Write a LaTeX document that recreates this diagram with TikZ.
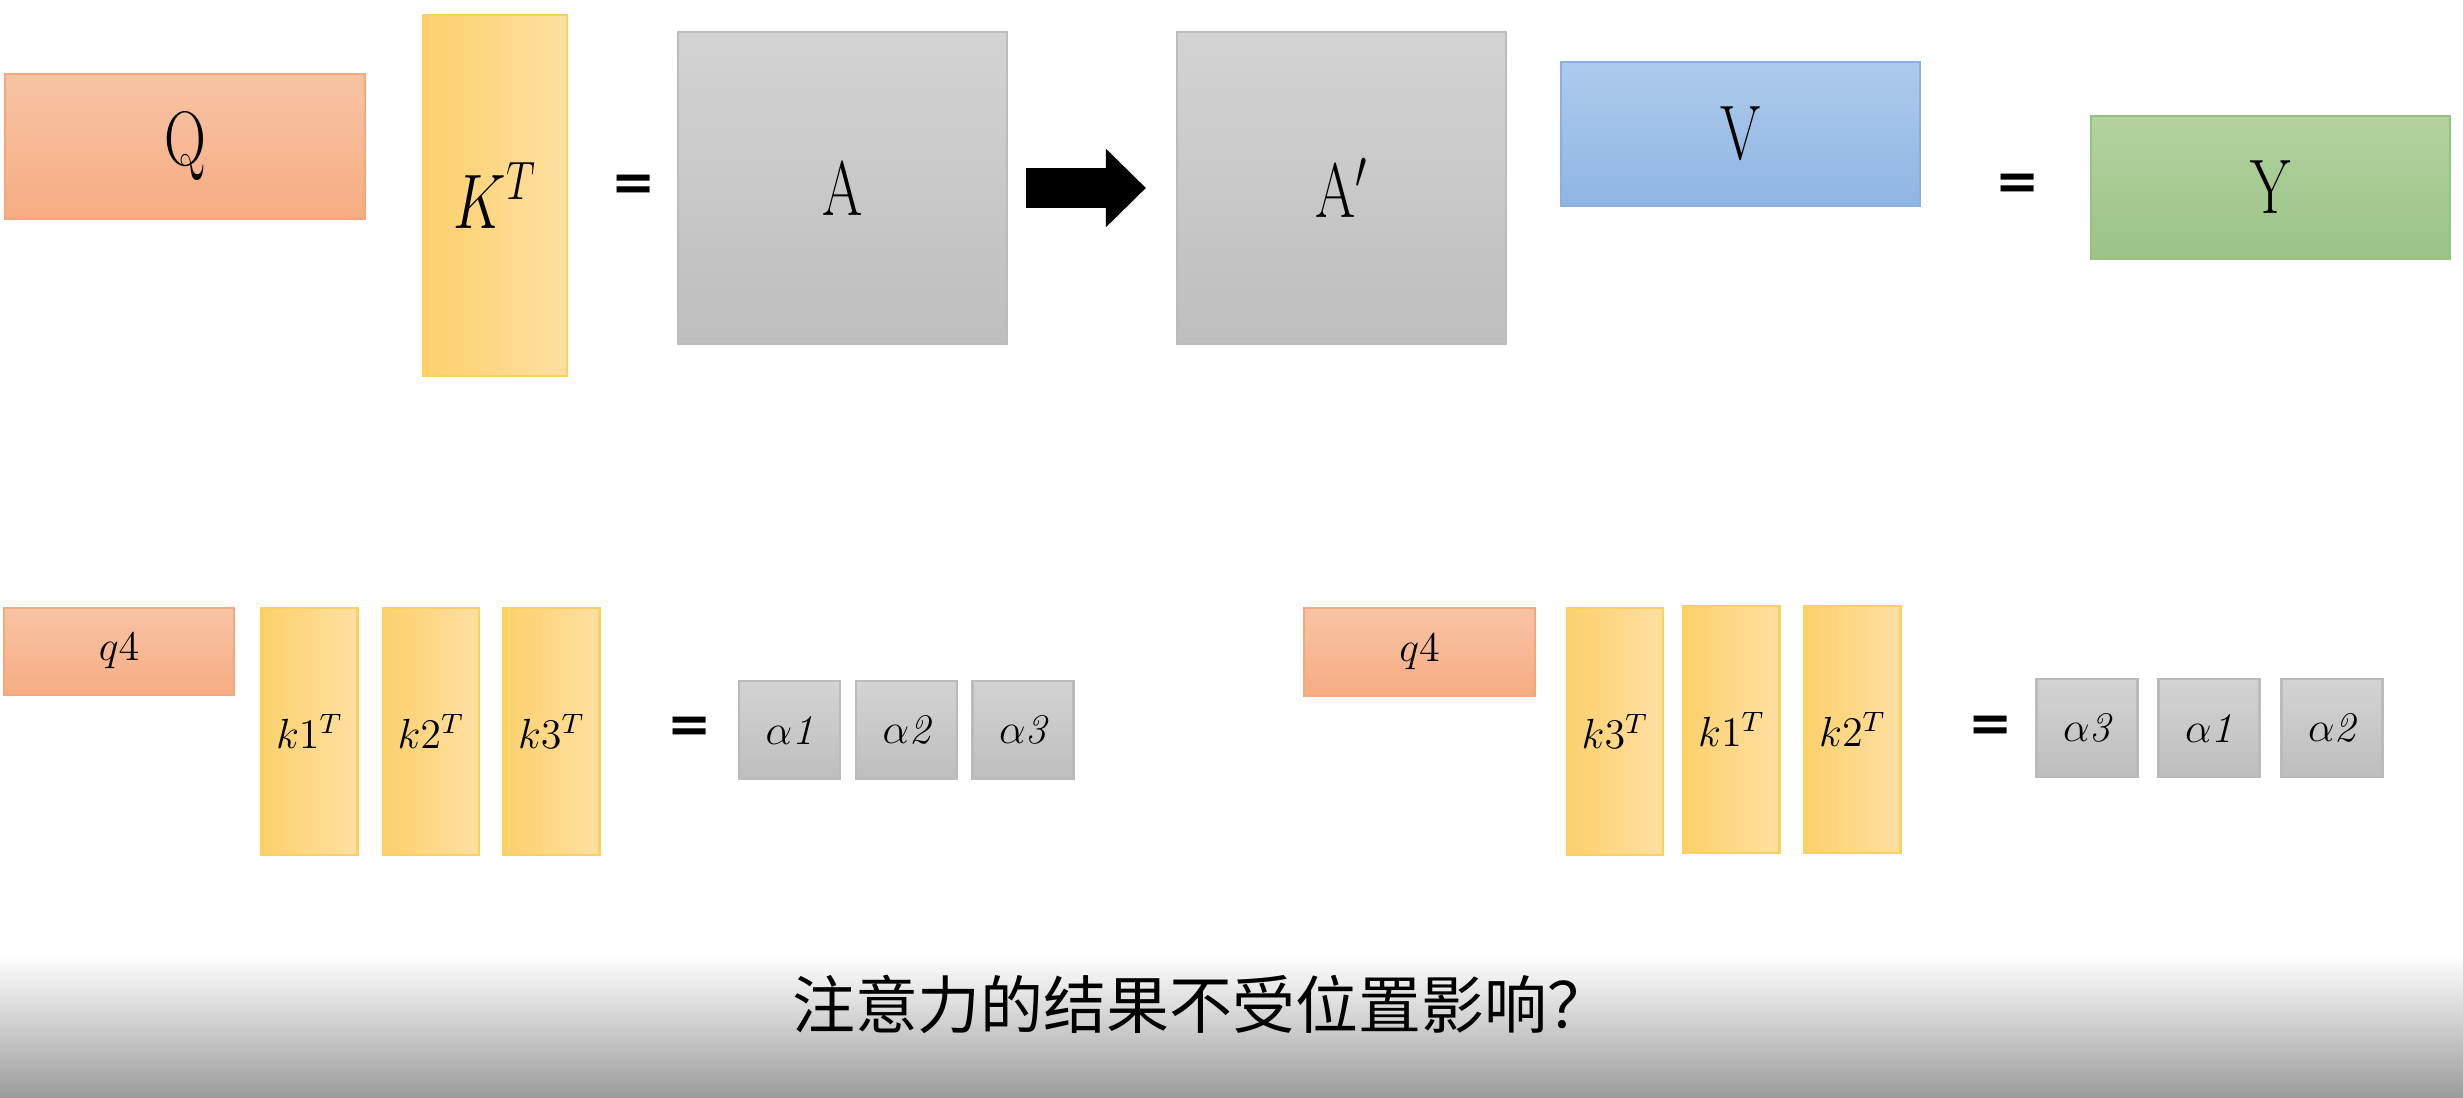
\RequirePackage{fix-cm}
\documentclass[tikz,border=0pt]{standalone}
\usepackage{fontspec}
\usepackage{graphicx}
\newfontfamily\cjk{Noto Sans CJK SC}
\newfontfamily\eqfont{DejaVu Sans}
\usetikzlibrary{arrows.meta}

\definecolor{qtop}{HTML}{F8C4A4}
\definecolor{qbot}{HTML}{F6AC82}
\definecolor{qline}{HTML}{F2A77C}
\definecolor{kleft}{HTML}{FCD06C}
\definecolor{kright}{HTML}{FEE0A2}
\definecolor{kline}{HTML}{FAD060}
\definecolor{atop}{HTML}{D3D3D3}
\definecolor{abot}{HTML}{BEBEBE}
\definecolor{aline}{HTML}{BBBBBB}
\definecolor{vtop}{HTML}{ADCAEB}
\definecolor{vbot}{HTML}{8FB5E3}
\definecolor{vline}{HTML}{8AB0E0}
\definecolor{ytop}{HTML}{B3D2A0}
\definecolor{ybot}{HTML}{9AC485}
\definecolor{yline}{HTML}{96C282}
\definecolor{barmid}{HTML}{DCDCDC}
\definecolor{barbot}{HTML}{9C9C9C}

\newcommand{\narrowtxt}[1]{\scalebox{0.75}[1]{#1}}

\tikzset{
  mat/.style={inner sep=0pt, line width=0.6pt, text=black, font=\fontsize{22}{26}\selectfont},
  qmat/.style={mat, top color=qtop, bottom color=qbot, draw=qline},
  kmat/.style={mat, left color=kleft, right color=kright, draw=kline},
  amat/.style={mat, top color=atop, bottom color=abot, draw=aline},
  vmat/.style={mat, top color=vtop, bottom color=vbot, draw=vline},
  ymat/.style={mat, top color=ytop, bottom color=ybot, draw=yline},
  smalltxt/.style={font=\fontsize{12}{14}\selectfont},
  kcol/.style={kmat, smalltxt, minimum width=0.96cm, minimum height=2.47cm},
  acell/.style={amat, smalltxt, minimum width=1.01cm, minimum height=0.98cm},
  eqsign/.style={inner sep=0pt, font=\eqfont\bfseries\fontsize{15}{15}\selectfont},
}

\begin{document}
\begin{tikzpicture}
\useasboundingbox (0,0) rectangle (24.63,10.97);
% fascia sottotitolo
\shade[top color=white, middle color=barmid, bottom color=barbot] (0,0) rectangle (24.63,1.42);
\fill[white] (0,1.42) rectangle (24.63,10.97);
% riga superiore
\node[qmat, minimum width=3.60cm, minimum height=1.45cm] (Q) at (1.85,9.505) {\narrowtxt{$\mathrm{Q}$}};
\node[kmat, minimum width=1.44cm, minimum height=3.61cm] (KT) at (4.95,9.015) {\narrowtxt{$K^T$}};
\node[eqsign] (eq1) at (6.34,9.09) {=};
\node[amat, minimum width=3.29cm, minimum height=3.12cm] (A) at (8.425,9.09) {\narrowtxt{$\mathrm{A}$}};
\node[amat, minimum width=3.29cm, minimum height=3.12cm] (A2) at (13.415,9.09) {\narrowtxt{$\mathrm{A}'$}};
\node[vmat, minimum width=3.59cm, minimum height=1.44cm] (V) at (17.405,9.63) {\narrowtxt{$\mathrm{V}$}};
\node[eqsign] (eq2) at (20.175,9.10) {=};
\node[ymat, minimum width=3.59cm, minimum height=1.43cm] (Y) at (22.705,9.095) {\narrowtxt{$\mathrm{Y}$}};
% freccia
\draw[line width=0.4cm, -{Triangle[length=0.4cm, width=0.76cm]}, shorten <=0.18cm, shorten >=0.30cm] (A.east) -- (A2.west);
% riga inferiore, sinistra
\node[qmat, smalltxt, minimum width=2.30cm, minimum height=0.87cm] (q4a) at (1.19,4.455) {$q4$};
\node[kcol] (k1a) at (3.095,3.655) {$k1^T$};
\node[kcol] (k2a) at (4.31,3.655) {$k2^T$};
\node[kcol] (k3a) at (5.515,3.655) {$k3^T$};
\node[eqsign] (eq3) at (6.90,3.675) {=};
\node[acell] (a1) at (7.895,3.67) {$\alpha\mathit{1}$};
\node[acell] (a2) at (9.065,3.67) {$\alpha\mathit{2}$};
\node[acell] (a3) at (10.23,3.67) {$\alpha\mathit{3}$};
% riga inferiore, destra
\node[qmat, smalltxt, minimum width=2.31cm, minimum height=0.88cm] (q4b) at (14.195,4.45) {$q4$};
\node[kcol] (k3b) at (16.15,3.655) {$k3^T$};
\node[kcol] (k1b) at (17.315,3.675) {$k1^T$};
\node[kcol] (k2b) at (18.525,3.675) {$k2^T$};
\node[eqsign] (eq4) at (19.91,3.685) {=};
\node[acell] (b3) at (20.87,3.69) {$\alpha\mathit{3}$};
\node[acell] (b1) at (22.09,3.69) {$\alpha\mathit{1}$};
\node[acell] (b2) at (23.32,3.69) {$\alpha\mathit{2}$};
% sottotitolo
\node[font=\cjk\fontsize{17.9}{20}\selectfont] (caption) at (12.01,0.93) {注意力的结果不受位置影响？};
\end{tikzpicture}
\end{document}
